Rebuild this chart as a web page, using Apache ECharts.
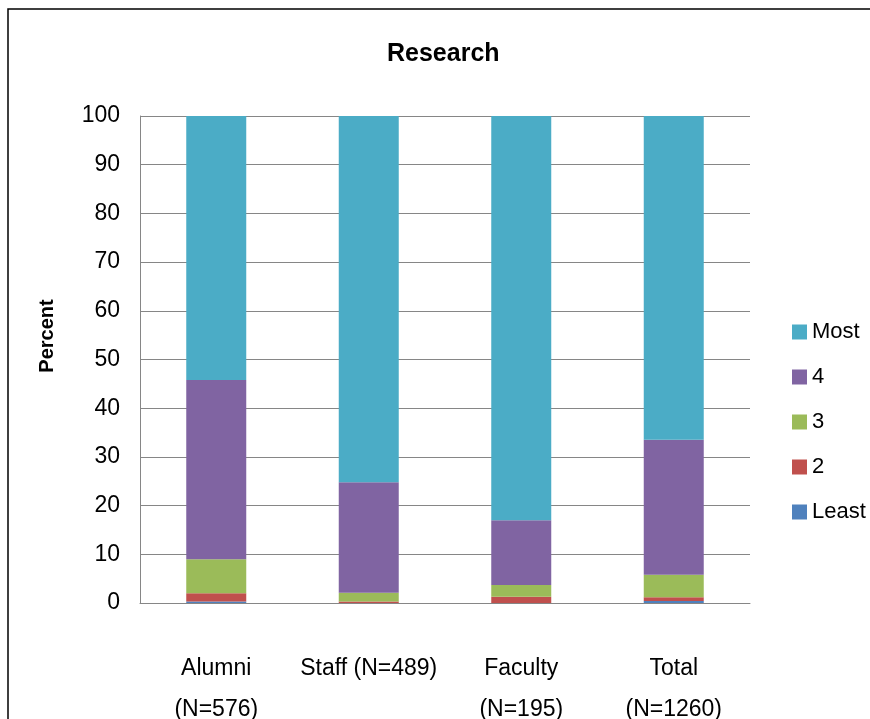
<!DOCTYPE html>
<html lang="en">
<head>
<meta charset="UTF-8">
<title>Research</title>
<script src="https://cdn.jsdelivr.net/npm/echarts@6/dist/echarts.min.js"></script>
<style>
  html, body { margin: 0; padding: 0; background: #fff; }
  #container { width: 870px; height: 719px; }
</style>
</head>
<body>
<div id="container"></div>
<script>
// categories + stacked percentages
var categories = ['Alumni\n(N=576)', 'Staff (N=489)', 'Faculty\n(N=195)', 'Total\n(N=1260)'];
var least = [0.3, 0.0, 0.0, 0.4];
var two   = [1.7, 0.3, 1.3, 0.8];
var three = [7.0, 1.8, 2.4, 4.6];
var four  = [36.8, 22.7, 13.3, 27.7];
var most  = [54.2, 75.2, 83.0, 66.5];
var legendOrder = ['Most', '4', '3', '2', 'Least'];

var font = 'Liberation Sans, Arial, sans-serif';
var myChart = echarts.init(document.getElementById('container'));

function bar(name, data, color) {
    return {
        name: name,
        type: 'bar',
        stack: 'all',
        barWidth: 60,
        data: data,
        itemStyle: { color: color }
    };
}

var option = {
    animation: false,
    textStyle: { fontFamily: font },
    title: {
        text: 'Research',
        left: 387,
        top: 42,
        padding: 0,
        textStyle: { fontFamily: font, fontSize: 25, fontWeight: 'bold', color: '#000' }
    },
    legend: {
        orient: 'vertical',
        left: 787,
        top: 316,
        data: legendOrder,
        icon: 'rect',
        itemWidth: 15,
        itemHeight: 15,
        itemGap: 23,
        textStyle: { fontFamily: font, fontSize: 22, color: '#000', lineHeight: 22 }
    },
    grid: {
        left: 140,
        right: 120,
        top: 116,
        bottom: 116,
        containLabel: false,
        outerBoundsMode: 'none'
    },
    xAxis: {
        type: 'category',
        data: categories,
        axisTick: { show: false },
        axisLine: { lineStyle: { color: '#868686', width: 1 } },
        axisLabel: {
            margin: 45,
            fontFamily: font,
            fontSize: 23,
            lineHeight: 41,
            color: '#000',
            interval: 0
        }
    },
    yAxis: {
        type: 'value',
        min: 0,
        max: 100,
        interval: 10,
        axisTick: { show: false },
        axisLine: { show: true, lineStyle: { color: '#868686', width: 1 } },
        splitLine: { show: true, lineStyle: { color: '#868686', width: 1 } },
        axisLabel: { margin: 20, fontFamily: font, fontSize: 23, color: '#000' }
    },
    graphic: [
        {
            type: 'rect',
            shape: { x: 8, y: 9, width: 900, height: 800 },
            style: { fill: 'none', stroke: '#000', lineWidth: 1.5 },
            silent: true
        },
        {
            type: 'text',
            x: 47,
            y: 336,
            rotation: Math.PI / 2,
            style: {
                text: 'Percent',
                fontFamily: font,
                fontSize: 20,
                fontWeight: 'bold',
                fill: '#000',
                textAlign: 'center',
                textVerticalAlign: 'middle'
            }
        }
    ],
    series: [
        bar('Least', least, '#4F81BD'),
        bar('2', two, '#C0504D'),
        bar('3', three, '#9BBB59'),
        bar('4', four, '#8064A2'),
        bar('Most', most, '#4BACC6')
    ]
};
myChart.setOption(option, true);
</script>
</body>
</html>
